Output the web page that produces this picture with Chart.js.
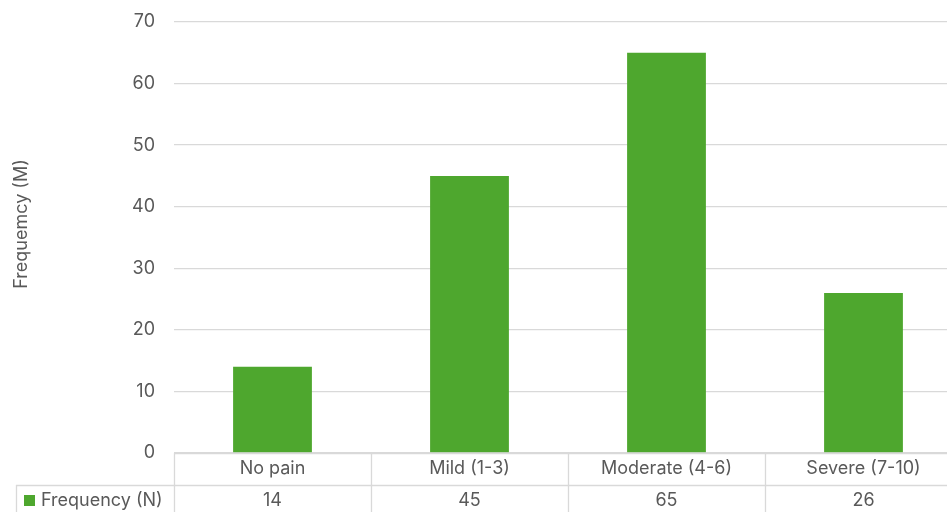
<!DOCTYPE html>
<html>
<head>
<meta charset="utf-8">
<script src="https://cdn.jsdelivr.net/npm/chart.js@4.4.1/dist/chart.umd.min.js"></script>
<style>
  html, body { margin: 0; padding: 0; background: #fff; overflow: hidden; }
  /* the plot runs slightly past the right edge, so the canvas is clipped */
  #wrap { width: 947px; height: 512px; overflow: hidden; }
</style>
</head>
<body>
<div id="wrap"><canvas id="painChart" width="962" height="512"></canvas></div>
<script>
// Pain categories and counts
const categories = ['No pain', 'Mild (1-3)', 'Moderate (4-6)', 'Severe (7-10)'];
const frequency = [14, 45, 65, 26];
const seriesName = 'Frequency (N)';
const yTitle = 'Frequemcy (M)';

const green = '#4ea72e';
const gridColor = '#d9d9d9';
const textColor = '#595959';
const fontFamily = 'Inter, "Noto Sans", sans-serif';
const fontSize = 18;

// Data table under the x axis (category row + value row with legend key)
const dataTable = {
  id: 'dataTable',
  afterDraw(chart) {
    const ctx = chart.ctx;
    const area = chart.chartArea;
    const x = chart.scales.x;
    const colW = (area.right - area.left) / categories.length;
    const top = area.bottom;
    const mid = top + 32;
    const bottom = chart.height;
    const legendLeft = 16;

    ctx.save();
    ctx.strokeStyle = gridColor;
    ctx.lineWidth = 1.3;
    ctx.beginPath();
    ctx.moveTo(area.left, top + 0.5);
    ctx.lineTo(area.right, top + 0.5);
    ctx.moveTo(legendLeft, mid + 0.5);
    ctx.lineTo(area.right, mid + 0.5);
    for (let i = 0; i <= categories.length; i++) {
      const bx = Math.round(area.left + i * colW) + 0.5;
      ctx.moveTo(bx, top);
      ctx.lineTo(bx, bottom);
    }
    ctx.moveTo(legendLeft + 0.5, mid);
    ctx.lineTo(legendLeft + 0.5, bottom);
    ctx.stroke();

    ctx.fillStyle = textColor;
    ctx.font = fontSize + 'px ' + fontFamily;
    ctx.textAlign = 'center';
    ctx.textBaseline = 'middle';
    categories.forEach((c, i) => {
      const cx = x.getPixelForValue(i);
      ctx.fillText(c, cx, top + 16);
      ctx.fillText(String(frequency[i]), cx, mid + 16);
    });

    // legend key
    ctx.fillStyle = green;
    ctx.fillRect(legendLeft + 8, mid + 10, 11, 11);
    ctx.fillStyle = textColor;
    ctx.textAlign = 'left';
    ctx.fillText(seriesName, legendLeft + 25, mid + 16);

    // rotated y axis title
    ctx.translate(22, 224);
    ctx.rotate(-Math.PI / 2);
    ctx.textAlign = 'center';
    ctx.fillText(yTitle, 0, 0);
    ctx.restore();
  }
};

new Chart(document.getElementById('painChart'), {
  type: 'bar',
  data: {
    labels: categories,
    datasets: [{
      label: seriesName,
      data: frequency,
      backgroundColor: green,
      barPercentage: 0.4,
      categoryPercentage: 1.0
    }]
  },
  options: {
    responsive: false,
    animation: false,
    layout: { padding: { top: 22, right: 0, bottom: 0, left: 0 } },
    plugins: {
      legend: { display: false },
      tooltip: { enabled: false }
    },
    scales: {
      x: {
        ticks: { display: false },
        grid: { display: false },
        border: { display: false },
        afterFit(scale) {
          scale.height = 59;
          scale.paddingLeft = 0;
          scale.paddingRight = 0;
        }
      },
      y: {
        min: 0,
        max: 70,
        ticks: {
          stepSize: 10,
          padding: 19,
          color: textColor,
          font: { family: fontFamily, size: fontSize }
        },
        grid: { color: gridColor, lineWidth: 1.3, drawTicks: false },
        border: { display: false },
        afterFit(scale) {
          scale.width = 174;
          scale.paddingTop = 0;
          scale.paddingBottom = 0;
        }
      }
    }
  },
  plugins: [dataTable]
});
</script>
</body>
</html>
